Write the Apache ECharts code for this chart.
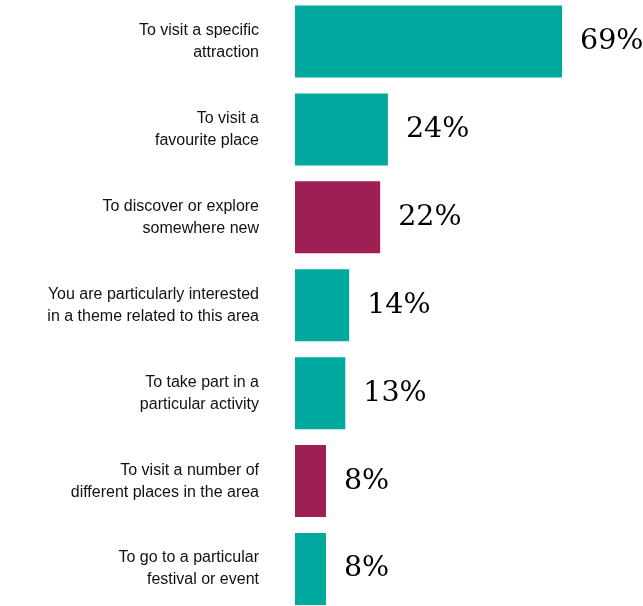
<!DOCTYPE html>
<html>
<head>
<meta charset="utf-8">
<script src="https://cdn.jsdelivr.net/npm/echarts@6/dist/echarts.min.js"></script>
<style>
  html, body { margin: 0; padding: 0; background: #fff; }
  #chart { width: 643px; height: 606px; }
</style>
</head>
<body>
<div id="chart"></div>
<script>
// Reasons for visiting, share of respondents (%)
const categories = [
  'To visit a specific\nattraction',
  'To visit a\nfavourite place',
  'To discover or explore\nsomewhere new',
  'You are particularly interested\nin a theme related to this area',
  'To take part in a\nparticular activity',
  'To visit a number of\ndifferent places in the area',
  'To go to a particular\nfestival or event'
];
const values = [69, 24, 22, 14, 13, 8, 8];
// Which reasons are highlighted in the accent colour
const highlighted = [false, false, true, false, false, true, false];

const TEAL = '#00A99D';
const PLUM = '#9E1F54';

const chart = echarts.init(document.getElementById('chart'), null, { renderer: 'canvas' });

chart.setOption({
  animation: false,
  backgroundColor: '#ffffff',
  grid: {
    left: 295, top: -2.5, width: 309.6, height: 615.5,
    containLabel: false,
    outerBoundsMode: 'none'
  },
  xAxis: {
    type: 'value',
    min: 0,
    max: 80,
    show: false
  },
  yAxis: {
    type: 'category',
    data: categories,
    inverse: true,
    axisLine: { show: false },
    axisTick: { show: false },
    splitLine: { show: false },
    axisLabel: {
      margin: 36,
      align: 'right',
      fontFamily: '"Liberation Sans", Arial, sans-serif',
      fontSize: 16,
      lineHeight: 22,
      color: '#111'
    }
  },
  series: [{
    type: 'bar',
    barWidth: 72,
    data: values.map((v, i) => ({
      value: v,
      itemStyle: { color: highlighted[i] ? PLUM : TEAL }
    })),
    label: {
      show: true,
      position: 'right',
      distance: 18,
      formatter: '{c}%',
      fontFamily: '"DejaVu Serif", "Liberation Serif", serif',
      fontSize: 28.5,
      color: '#000'
    }
  }]
});
</script>
</body>
</html>
